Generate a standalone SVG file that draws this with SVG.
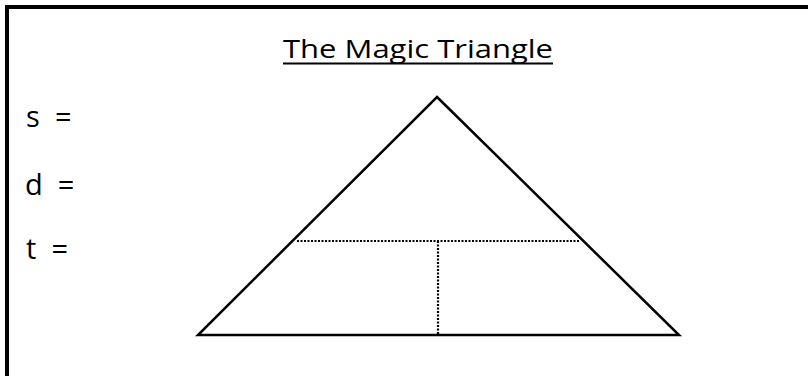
<svg xmlns="http://www.w3.org/2000/svg" width="808" height="376" viewBox="0 0 808 376">
<style>
.t{font-family:"Open Sans","DejaVu Sans",sans-serif;font-size:26px;fill:#000}
.l{font-family:"Open Sans","DejaVu Sans",sans-serif;font-size:29px;fill:#000}
.solid{fill:none;stroke:#000;stroke-width:2.5;stroke-linejoin:miter}
.dot{fill:none;stroke:#000;stroke-width:2.2;stroke-dasharray:2 1.5}
</style>
<rect width="808" height="376" fill="#fff"/>
<g id="frame"><path d="M7,380 V7 H812" fill="none" stroke="#000" stroke-width="4"/></g>
<g id="title"><text class="t" x="283" y="58" textLength="270" lengthAdjust="spacingAndGlyphs">The Magic Triangle</text>
<line x1="283" y1="63.5" x2="553" y2="63.5" stroke="#000" stroke-width="2"/></g>
<g id="labels">
<text class="l" x="26" y="127" xml:space="preserve">s  =</text>
<text class="l" x="25" y="195" xml:space="preserve">d  =</text>
<text class="l" x="26" y="259" xml:space="preserve">t  =</text>
</g>
<g id="triangle"><polygon class="solid" points="437,97 679,335 198,335"/></g>
<g id="connectors">
<line class="dot" x1="297" y1="241" x2="580" y2="241"/>
<line class="dot" x1="438" y1="241" x2="438" y2="334"/>
</g>
</svg>
